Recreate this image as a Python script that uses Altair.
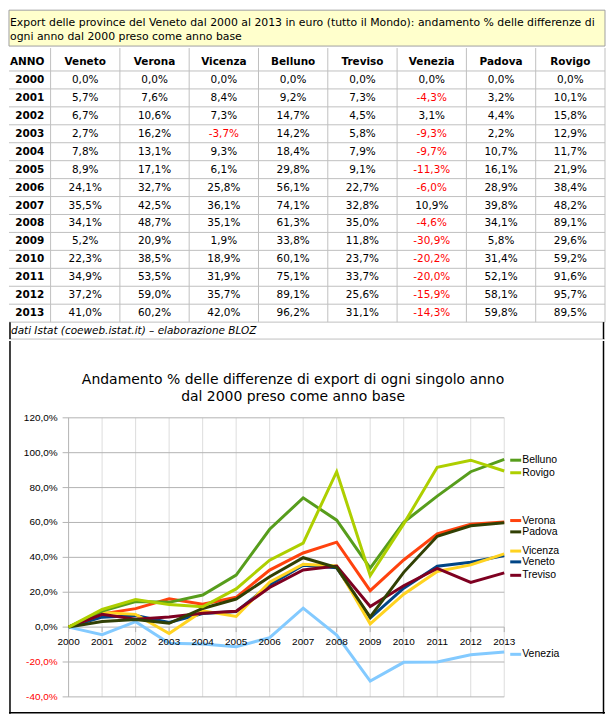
import altair as alt
import pandas as pd

# ---------------- data ----------------
years = list(range(2000, 2014))
provinces = ["Veneto", "Verona", "Vicenza", "Belluno", "Treviso", "Venezia", "Padova", "Rovigo"]
veneto = [0.0, 5.7, 6.7, 2.7, 7.8, 8.9, 24.1, 35.5, 34.1, 5.2, 22.3, 34.9, 37.2, 41.0]
verona = [0.0, 7.6, 10.6, 16.2, 13.1, 17.1, 32.7, 42.5, 48.7, 20.9, 38.5, 53.5, 59.0, 60.2]
vicenza = [0.0, 8.4, 7.3, -3.7, 9.3, 6.1, 25.8, 36.1, 35.1, 1.9, 18.9, 31.9, 35.7, 42.0]
belluno = [0.0, 9.2, 14.7, 14.2, 18.4, 29.8, 56.1, 74.1, 61.3, 33.8, 60.1, 75.1, 89.1, 96.2]
treviso = [0.0, 7.3, 4.5, 5.8, 7.9, 9.1, 22.7, 32.8, 35.0, 11.8, 23.7, 33.7, 25.6, 31.1]
venezia = [0.0, -4.3, 3.1, -9.3, -9.7, -11.3, -6.0, 10.9, -4.6, -30.9, -20.2, -20.0, -15.9, -14.3]
padova = [0.0, 3.2, 4.4, 2.2, 10.7, 16.1, 28.9, 39.8, 34.1, 5.8, 31.4, 52.1, 58.1, 59.8]
rovigo = [0.0, 10.1, 15.8, 12.9, 11.7, 21.9, 38.4, 48.2, 89.1, 29.6, 59.2, 91.6, 95.7, 89.5]
series = [veneto, verona, vicenza, belluno, treviso, venezia, padova, rovigo]

y_ticks = [-40, -20, 0, 20, 40, 60, 80, 100, 120]

table_title = ["Export delle province del Veneto dal 2000 al 2013 in euro (tutto il Mondo): andamento % delle differenze di",
               "ogni anno dal 2000 preso come anno base"]
chart_title = ["Andamento % delle differenze di export di ogni singolo anno",
               "dal 2000 preso come anno base"]
footer = "dati Istat (coeweb.istat.it) \u2013 elaborazione BLOZ"
first_col = "ANNO"

# ---------------- style ----------------
colors = ["#004586", "#FF420E", "#FFD320", "#579D1C", "#7E0021", "#83CAFF", "#314004", "#AECF00"]
legend_nudge = [-3.6, 0.9, 1.6, -0.5, -1.4, -1.3, -5.2, -1.0]   # label offsets (data units)
TFONT = "DejaVu Sans"
CFONT = "Liberation Sans"
GRID_T = "#C0C0C0"

W = 598
H1 = 330
ROW_PX = 18.0
TITLE_H = 2.0
HEADER_H = 25 / ROW_PX
FOOTER_H = 17 / ROW_PX
ANNO_W = 0.6
NCOL_U = ANNO_W + len(provinces)
PX_U = NCOL_U / W


def pct(v):
    return f"{v:.1f}%".replace(".", ",")


# ---------------- table panel ----------------
xs1 = alt.Scale(domain=[0, NCOL_U], nice=False, zero=False)
ys1 = alt.Scale(domain=[0, H1 / ROW_PX], reverse=True, nice=False, zero=False)

box = pd.DataFrame({"x": [0], "x2": [NCOL_U], "y": [0], "y2": [TITLE_H]})
box_l = alt.Chart(box).mark_rect(fill="#FFFFCC", stroke="#A0A0A0", strokeWidth=1).encode(
    x=alt.X("x:Q", scale=xs1, axis=None), x2="x2:Q",
    y=alt.Y("y:Q", scale=ys1, axis=None), y2="y2:Q")

tt = pd.DataFrame({"t": table_title, "y": [13 / ROW_PX + i * 14 / ROW_PX for i in range(len(table_title))],
                   "x": [0.0] * len(table_title)})
tt_l = alt.Chart(tt).mark_text(align="left", baseline="middle", dx=1, font=TFONT, fontSize=10.9, color="black").encode(
    x=alt.X("x:Q", scale=xs1, axis=None), y=alt.Y("y:Q", scale=ys1, axis=None), text="t:N")

head_y = TITLE_H + 16 / ROW_PX
hd = pd.DataFrame({"t": provinces, "x": [ANNO_W + i + 0.5 for i in range(len(provinces))], "y": head_y})
hd_l = alt.Chart(hd).mark_text(align="center", baseline="middle", font=TFONT, fontSize=10.5, fontWeight="bold", color="black").encode(
    x=alt.X("x:Q", scale=xs1, axis=None), y=alt.Y("y:Q", scale=ys1, axis=None), text="t:N")
anno_l = alt.Chart(pd.DataFrame({"t": [first_col], "y": [head_y], "x": [0.0]})).mark_text(
    align="left", baseline="middle", dx=1, font=TFONT, fontSize=10.5, fontWeight="bold", color="black").encode(
    x=alt.X("x:Q", scale=xs1, axis=None), y=alt.Y("y:Q", scale=ys1, axis=None), text="t:N")

data_top = TITLE_H + HEADER_H
cells = []
for i, yr in enumerate(years):
    for j, s in enumerate(series):
        v = s[i]
        cells.append({"x": ANNO_W + j + 0.5, "y": data_top + i + 0.5, "t": pct(v), "neg": v < 0})
cells = pd.DataFrame(cells)
cells_pos = alt.Chart(cells).transform_filter("!datum.neg").mark_text(
    align="center", baseline="middle", font=TFONT, fontSize=10.5, color="#000000").encode(
    x=alt.X("x:Q", scale=xs1, axis=None), y=alt.Y("y:Q", scale=ys1, axis=None), text="t:N")
cells_neg = alt.Chart(cells).transform_filter("datum.neg").mark_text(
    align="center", baseline="middle", font=TFONT, fontSize=10.5, color="#FF0000").encode(
    x=alt.X("x:Q", scale=xs1, axis=None), y=alt.Y("y:Q", scale=ys1, axis=None), text="t:N")

yrs = pd.DataFrame({"t": [str(y) for y in years], "y": [data_top + i + 0.5 for i in range(len(years))],
                    "x": [ANNO_W / 2] * len(years)})
yrs_l = alt.Chart(yrs).mark_text(align="center", baseline="middle", font=TFONT, fontSize=10.5, fontWeight="bold", color="black").encode(
    x=alt.X("x:Q", scale=xs1, axis=None), y=alt.Y("y:Q", scale=ys1, axis=None), text="t:N")

foot = pd.DataFrame({"t": [footer], "y": [data_top + len(years) + FOOTER_H / 2], "x": [0.0]})
foot_l = alt.Chart(foot).mark_text(align="left", baseline="middle", dx=2, font=TFONT, fontSize=10.5, fontStyle="italic", color="black").encode(
    x=alt.X("x:Q", scale=xs1, axis=None), y=alt.Y("y:Q", scale=ys1, axis=None), text="t:N")

hl = pd.DataFrame({"y": [data_top + k for k in range(len(years) + 1)] + [data_top + len(years) + FOOTER_H]})
hl["x"] = 0.0
hl["x2"] = NCOL_U
hl_l = alt.Chart(hl).mark_rule(color=GRID_T, strokeWidth=1).encode(
    x=alt.X("x:Q", scale=xs1, axis=None), x2="x2:Q", y=alt.Y("y:Q", scale=ys1, axis=None))

vl = pd.DataFrame({"x": [ANNO_W + k for k in range(len(provinces) + 1)]})
vl["y"] = TITLE_H + 2 / ROW_PX
vl["y2"] = data_top + len(years)
vl_l = alt.Chart(vl).mark_rule(color=GRID_T, strokeWidth=1).encode(
    x=alt.X("x:Q", scale=xs1, axis=None), y=alt.Y("y:Q", scale=ys1, axis=None), y2="y2:Q")

bl = pd.DataFrame({"x": [1.0 * PX_U, NCOL_U - 1.5 * PX_U]})
bl["y"] = data_top + len(years)
bl["y2"] = H1 / ROW_PX
bl_l = alt.Chart(bl).mark_rule(color="black", strokeWidth=1.5).encode(
    x=alt.X("x:Q", scale=xs1, axis=None), y=alt.Y("y:Q", scale=ys1, axis=None), y2="y2:Q")

table = alt.layer(box_l, tt_l, hl_l, vl_l, bl_l, hd_l, anno_l, cells_pos, cells_neg, yrs_l, foot_l).properties(width=W, height=H1)

# ---------------- chart panel ----------------
H2 = 374
X0_PX, X1_PX = 59.8, 496.9
Y_TOP_PX, Y_BOT_PX = 77.0, 357.0
ppy = (X1_PX - X0_PX) / (years[-1] - years[0])
ppu = (Y_BOT_PX - Y_TOP_PX) / (y_ticks[-1] - y_ticks[0])
xd = [years[0] - X0_PX / ppy, years[-1] + (W - X1_PX) / ppy]
yd = [y_ticks[0] - (H2 - Y_BOT_PX) / ppu, y_ticks[-1] + Y_TOP_PX / ppu]
xs2 = alt.Scale(domain=xd, nice=False, zero=False)
ys2 = alt.Scale(domain=yd, nice=False, zero=False)

long = pd.DataFrame([{"year": yr, "val": s[i], "prov": p, "ord": k}
                     for k, (p, s) in enumerate(zip(provinces, series)) for i, yr in enumerate(years)])
cscale = alt.Scale(domain=list(range(len(provinces))), range=colors)

# frame (left, right, bottom)
fr_v = pd.DataFrame({"x": [xd[0] + 1.0 / ppy, xd[1] - 1.5 / ppy], "lo": [yd[0], yd[0]], "hi": [yd[1], yd[1]]})
fr_v_l = alt.Chart(fr_v).mark_rule(color="black", strokeWidth=1.5).encode(
    x=alt.X("x:Q", scale=xs2, axis=None), y=alt.Y("lo:Q", scale=ys2, axis=None), y2="hi:Q")
fr_h = pd.DataFrame({"y": [yd[0] + 1.0 / ppu], "x": [xd[0]], "x2": [xd[1]]})
fr_h_l = alt.Chart(fr_h).mark_rule(color="black", strokeWidth=1.5).encode(
    x=alt.X("x:Q", scale=xs2, axis=None), x2="x2:Q", y=alt.Y("y:Q", scale=ys2, axis=None))

vg = pd.DataFrame({"year": years[1:]})
vg["lo"] = y_ticks[0]
vg["hi"] = y_ticks[-1]
vg_l = alt.Chart(vg).mark_rule(color="#DDDDDD", strokeWidth=1).encode(
    x=alt.X("year:Q", scale=xs2, axis=None), y=alt.Y("lo:Q", scale=ys2, axis=None), y2="hi:Q")

hg = pd.DataFrame({"tick": y_ticks, "lab": [pct(t) for t in y_ticks], "neg": [t < 0 for t in y_ticks]})
hg["x"] = years[0]
hg["x2"] = years[-1]
hg_l = alt.Chart(hg).mark_rule(color="#B3B3B3", strokeWidth=1, xOffset=-6).encode(
    x=alt.X("x:Q", scale=xs2, axis=None), x2="x2:Q", y=alt.Y("tick:Q", scale=ys2, axis=None))

ax = pd.DataFrame({"year": [years[0]], "lo": [y_ticks[0]], "hi": [y_ticks[-1]]})
ax_l = alt.Chart(ax).mark_rule(color="#B3B3B3", strokeWidth=1).encode(
    x=alt.X("year:Q", scale=xs2, axis=None), y=alt.Y("lo:Q", scale=ys2, axis=None), y2="hi:Q")

xt = pd.DataFrame({"year": years, "lab": [str(y) for y in years], "zero": 0.0})
xtick_l = alt.Chart(xt).mark_rule(color="#B3B3B3", strokeWidth=1, y2Offset=5).encode(
    x=alt.X("year:Q", scale=xs2, axis=None), y=alt.Y("zero:Q", scale=ys2, axis=None), y2="zero:Q")

ylab_pos = alt.Chart(hg).transform_filter("!datum.neg").mark_text(
    align="right", baseline="middle", dx=-11, font=CFONT, fontSize=10, color="#000000").encode(
    x=alt.X("x:Q", scale=xs2, axis=None), y=alt.Y("tick:Q", scale=ys2, axis=None), text="lab:N")
ylab_neg = alt.Chart(hg).transform_filter("datum.neg").mark_text(
    align="right", baseline="middle", dx=-11, font=CFONT, fontSize=10, color="#FF0000").encode(
    x=alt.X("x:Q", scale=xs2, axis=None), y=alt.Y("tick:Q", scale=ys2, axis=None), text="lab:N")

xlab_l = alt.Chart(xt).mark_text(align="center", baseline="middle", dy=15, font=CFONT, fontSize=10, color="black").encode(
    x=alt.X("year:Q", scale=xs2, axis=None), y=alt.Y("zero:Q", scale=ys2, axis=None), text="lab:N")

lines_l = alt.Chart(long).mark_line(strokeWidth=3).encode(
    x=alt.X("year:Q", scale=xs2, axis=None), y=alt.Y("val:Q", scale=ys2, axis=None),
    color=alt.Color("ord:O", scale=cscale, legend=None))

leg = pd.DataFrame({"prov": provinces, "ord": list(range(len(provinces))),
                    "ly": [s[-1] + n for s, n in zip(series, legend_nudge)],
                    "x": [years[-1]] * len(provinces)})
legsw_l = alt.Chart(leg).mark_rule(strokeWidth=3, xOffset=6, x2Offset=17).encode(
    x=alt.X("x:Q", scale=xs2, axis=None), x2="x:Q", y=alt.Y("ly:Q", scale=ys2, axis=None),
    color=alt.Color("ord:O", scale=cscale, legend=None))
legtx_l = alt.Chart(leg).mark_text(align="left", baseline="middle", dx=18, font=CFONT, fontSize=10.5, color="black").encode(
    x=alt.X("x:Q", scale=xs2, axis=None), y=alt.Y("ly:Q", scale=ys2, axis=None), text="prov:N")

chart_p = alt.layer(fr_v_l, fr_h_l, vg_l, hg_l, ax_l, xtick_l, lines_l, ylab_pos, ylab_neg, xlab_l,
                    legsw_l, legtx_l).properties(
    width=W, height=H2,
    title=alt.Title(chart_title, font=TFONT, fontSize=14, fontWeight="normal", color="black",
                    anchor="middle", frame="group", offset=-64, dx=-14, lineHeight=17))

chart = alt.vconcat(table, chart_p, spacing=0).resolve_scale(
    x="independent", y="independent", color="independent").properties(
    padding=0, background="white").configure_view(strokeWidth=0)

chart.save("out.html", embed_options={"renderer": "svg", "actions": False})
